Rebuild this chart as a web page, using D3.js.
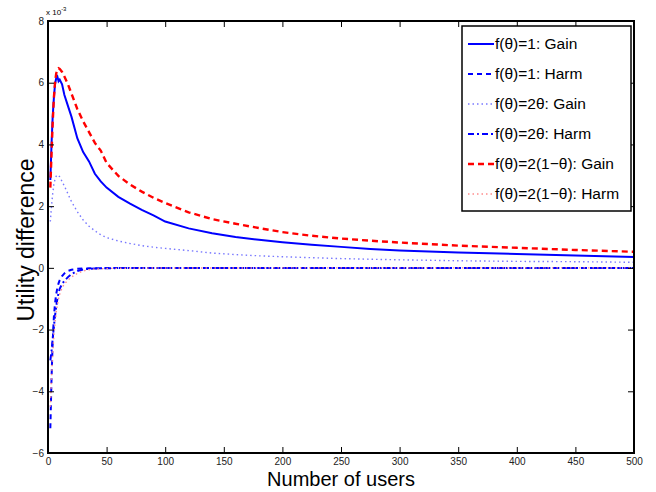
<!DOCTYPE html>
<html>
<head>
<meta charset="utf-8">
<script src="https://cdn.jsdelivr.net/npm/d3@7"></script>
<style>
body { margin: 0; background: #fff; }
svg { font-family: "Liberation Sans", Arial, sans-serif; }
.axis path { display: none; }
.axis line { stroke: #000; stroke-width: 1; }
.axis text { font-size: 10px; fill: #222; }
</style>
</head>
<body>
<script>
var width = 656;
var height = 492;
var margin = {top: 21, right: 22, bottom: 39, left: 48};

var users = [2, 3, 4, 5, 6, 7, 8, 9, 10, 12, 14, 17, 20, 25, 30, 35, 40, 45, 50,
    60, 70, 80, 90, 100, 120, 140, 160, 180, 200, 225, 250, 275, 300, 350, 400, 450, 500];

// values in units of 1e-3
var gainConst = [2.85, 4.0, 4.9, 5.5, 5.95, 6.15, 6.2, 6.05, 6.1, 5.95, 5.6, 5.25, 4.9,
    4.2, 3.75, 3.45, 3.05, 2.8, 2.6, 2.3, 2.08, 1.88, 1.7, 1.5, 1.28, 1.12, 1.0, 0.91, 0.83,
    0.75, 0.68, 0.61, 0.56, 0.5, 0.45, 0.4, 0.35];
var harmConst = [-5.2, -3.6, -2.4, -1.6, -1.15, -0.85, -0.65, -0.5, -0.4, -0.27, -0.18, -0.1, -0.06,
    -0.03, -0.02, -0.015, -0.01, -0.01, -0.008, -0.006, -0.005, -0.004, -0.004, -0.003,
    -0.003, -0.002, -0.002, -0.002, -0.002, -0.001, -0.001, -0.001, -0.001, -0.001, -0.001, -0.001, -0.001];
var gainLin = [1.5, 2.0, 2.4, 2.7, 2.88, 2.97, 3.01, 3.0, 2.95, 2.8, 2.65, 2.4, 2.15,
    1.82, 1.55, 1.35, 1.2, 1.07, 0.98, 0.87, 0.79, 0.72, 0.67, 0.63, 0.56, 0.48, 0.43, 0.39, 0.36,
    0.33, 0.3, 0.28, 0.26, 0.23, 0.21, 0.2, 0.18];
var harmLin = [-3.0, -2.7, -2.3, -1.9, -1.55, -1.25, -1.0, -0.82, -0.68, -0.52, -0.42, -0.3, -0.2,
    -0.1, -0.05, -0.03, -0.02, -0.015, -0.01, -0.008, -0.006, -0.005, -0.004, -0.004,
    -0.003, -0.003, -0.002, -0.002, -0.002, -0.001, -0.001, -0.001, -0.001, -0.001, -0.001, -0.001, -0.001];
var gainInv = [2.6, 3.7, 4.7, 5.5, 6.0, 6.3, 6.42, 6.47, 6.45, 6.35, 6.2, 5.95, 5.65,
    5.15, 4.75, 4.4, 4.05, 3.8, 3.4, 2.98, 2.7, 2.47, 2.27, 2.1, 1.8, 1.58, 1.43, 1.29, 1.16,
    1.04, 0.95, 0.88, 0.82, 0.72, 0.65, 0.58, 0.52];
var harmInv = [-4.5, -3.6, -2.8, -2.2, -1.8, -1.45, -1.2, -1.0, -0.85, -0.65, -0.52, -0.4, -0.3,
    -0.18, -0.1, -0.06, -0.04, -0.03, -0.02, -0.015, -0.01, -0.008, -0.006, -0.005,
    -0.004, -0.003, -0.003, -0.002, -0.002, -0.001, -0.001, -0.001, -0.001, -0.001, -0.001, -0.001, -0.001];

var xTicks = d3.range(0, 501, 50);
var yTicks = d3.range(-6, 9, 2);

var series = [
    {label: "f(\u03b8)=1: Gain", values: gainConst, color: "#0000ff", width: 2, dash: null},
    {label: "f(\u03b8)=1: Harm", values: harmConst, color: "#0000ff", width: 2, dash: "5,4"},
    {label: "f(\u03b8)=2\u03b8: Gain", values: gainLin, color: "#7878ff", width: 1.4, dash: "1.5,3"},
    {label: "f(\u03b8)=2\u03b8: Harm", values: harmLin, color: "#0000ff", width: 2, dash: "6,3,2,3"},
    {label: "f(\u03b8)=2(1\u2212\u03b8): Gain", values: gainInv, color: "#ff0000", width: 2.4, dash: "6,4"},
    {label: "f(\u03b8)=2(1\u2212\u03b8): Harm", values: harmInv, color: "#ff8c8c", width: 1.4, dash: "1.5,3"},
];

var x = d3.scaleLinear().domain([0, 500]).range([margin.left, width - margin.right]);
var y = d3.scaleLinear().domain([-6, 8]).range([height - margin.bottom, margin.top]);

var svg = d3.select("body").append("svg")
    .attr("width", width)
    .attr("height", height);

var line = d3.line()
    .x(d => x(d[0]))
    .y(d => y(d[1]));

svg.append("g")
    .attr("class", "lines")
    .selectAll("path")
    .data(series)
    .enter().append("path")
    .attr("fill", "none")
    .attr("stroke", d => d.color)
    .attr("stroke-width", d => d.width)
    .attr("stroke-dasharray", d => d.dash)
    .attr("d", d => line(users.map((u, i) => [u, d.values[i]])));

svg.append("g")
    .attr("class", "axis")
    .attr("transform", `translate(0, ${height - margin.bottom})`)
    .call(d3.axisBottom(x).tickValues(xTicks).tickSize(-6).tickPadding(5));

svg.append("g")
    .attr("class", "axis")
    .attr("transform", `translate(0, ${margin.top})`)
    .call(d3.axisTop(x).tickValues(xTicks).tickSize(-6).tickFormat(""));

svg.append("g")
    .attr("class", "axis")
    .attr("transform", `translate(${margin.left}, 0)`)
    .call(d3.axisLeft(y).tickValues(yTicks).tickSize(-6).tickPadding(4));

svg.append("g")
    .attr("class", "axis")
    .attr("transform", `translate(${width - margin.right}, 0)`)
    .call(d3.axisRight(y).tickValues(yTicks).tickSize(-6).tickFormat(""));

svg.append("rect")
    .attr("x", margin.left)
    .attr("y", margin.top)
    .attr("width", width - margin.left - margin.right)
    .attr("height", height - margin.top - margin.bottom)
    .attr("fill", "none")
    .attr("stroke", "#000")
    .attr("stroke-width", 2);

// exponent
var expo = svg.append("text")
    .attr("x", margin.left - 2)
    .attr("y", 15)
    .attr("font-size", 8)
    .text("x 10");
expo.append("tspan")
    .attr("dy", -4)
    .attr("font-size", 6)
    .text("-3");

svg.append("text")
    .attr("x", (margin.left + width - margin.right) / 2)
    .attr("y", 486)
    .attr("text-anchor", "middle")
    .attr("font-size", 20)
    .text("Number of users");

svg.append("text")
    .attr("transform", `translate(34, 240) rotate(-90)`)
    .attr("text-anchor", "middle")
    .attr("font-size", 23)
    .text("Utility difference");

// legend
var legend = svg.append("g")
    .attr("transform", "translate(462, 26)");

legend.append("rect")
    .attr("width", 169)
    .attr("height", 185)
    .attr("fill", "#fff")
    .attr("stroke", "#000")
    .attr("stroke-width", 1.5);

var rows = legend.selectAll("g.row")
    .data(series)
    .enter().append("g")
    .attr("class", "row")
    .attr("transform", (d, i) => `translate(0, ${18 + i * 30})`);

rows.append("line")
    .attr("x1", 6)
    .attr("x2", 32)
    .attr("stroke", d => d.color)
    .attr("stroke-width", d => d.width)
    .attr("stroke-dasharray", d => d.dash);

rows.append("text")
    .attr("x", 33)
    .attr("dy", "0.35em")
    .attr("font-size", 15.5)
    .text(d => d.label);
</script>
</body>
</html>
